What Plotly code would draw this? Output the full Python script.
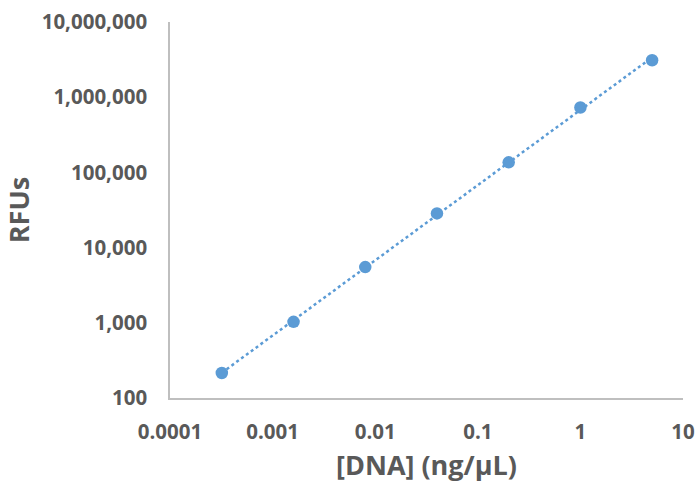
import numpy as np
import plotly.graph_objects as go

dna = [0.00032, 0.0016, 0.008, 0.04, 0.2, 1, 5]
rfu = [215, 1030, 5500, 28500, 136000, 730000, 3100000]

x_tickvals = [0.0001, 0.001, 0.01, 0.1, 1, 10]
x_ticktext = ["0.0001", "0.001", "0.01", "0.1", "1", "10"]
y_tickvals = [100, 1000, 10000, 100000, 1000000, 10000000]
y_ticktext = ["100", "1,000", "10,000", "100,000", "1,000,000", "10,000,000"]

# power-law trendline (least squares in log-log space)
lx = np.log10(dna)
ly = np.log10(rfu)
b, a = np.polyfit(lx, ly, 1)
tx = np.array([min(dna), max(dna)])
ty = 10 ** (a + b * np.log10(tx))

color = "#5B9BD5"
grey = "#595959"
font = "Open Sans"

fig = go.Figure()
fig.add_trace(go.Scatter(x=tx, y=ty, mode="lines",
                         line=dict(color=color, width=2.5, dash="dot"),
                         hoverinfo="skip", showlegend=False))
fig.add_trace(go.Scatter(x=dna, y=rfu, mode="markers",
                         marker=dict(color=color, size=12.5),
                         showlegend=False))

fig.update_layout(
    width=697, height=485,
    margin=dict(l=170, r=14, t=22, b=87),
    paper_bgcolor="white", plot_bgcolor="white",
    font=dict(family=font, color=grey),
)
fig.update_xaxes(type="log", range=[-4, 1], tickvals=x_tickvals, ticktext=x_ticktext,
                 automargin=False,
                 showgrid=False, zeroline=False, showline=True, linecolor="#BFBFBF",
                 linewidth=1.5, ticks="", ticklabelstandoff=15,
                 tickfont=dict(family=font, size=20.5, color=grey, weight="bold"),
                 title=dict(text="<b>[DNA] (ng/µL)</b>", standoff=12,
                            font=dict(family=font, size=27, color=grey)))
fig.update_yaxes(type="log", range=[2, 7], tickvals=y_tickvals, ticktext=y_ticktext,
                 automargin=False,
                 showgrid=False, zeroline=False, showline=True, linecolor="#BFBFBF",
                 linewidth=1.5, ticks="", ticklabelstandoff=17,
                 tickfont=dict(family=font, size=20.5, color=grey, weight="bold"),
                 title=dict(text="<b>RFUs</b>", standoff=10,
                            font=dict(family=font, size=27, color=grey)))

fig.write_html("out.html", config={"displayModeBar": False},
               post_script="document.body.style.margin='0';document.body.style.overflow='hidden';")
